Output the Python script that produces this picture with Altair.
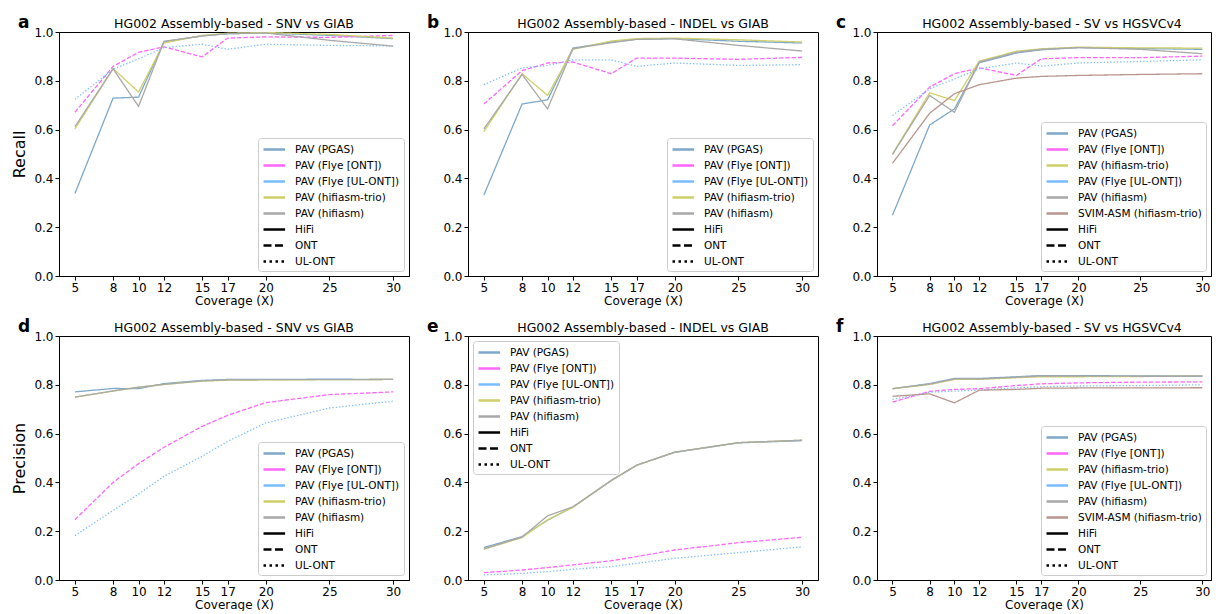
import altair as alt
import pandas as pd

COV = [5, 8, 10, 12, 15, 17, 20, 25, 30]

PGAS = "PAV (PGAS)"
ONT = "PAV (Flye [ONT])"
UL = "PAV (Flye [UL-ONT])"
TRIO = "PAV (hifiasm-trio)"
HIFIASM = "PAV (hifiasm)"
SVIM = "SVIM-ASM (hifiasm-trio)"

TECH = {PGAS: "HiFi", ONT: "ONT", UL: "UL-ONT", TRIO: "HiFi", HIFIASM: "HiFi", SVIM: "HiFi"}
COLOR = {PGAS: "#7ea8ca", ONT: "#ff66ff", UL: "#78bcff", TRIO: "#cfd06a",
         HIFIASM: "#a8a8a8", SVIM: "#b8958e"}

# a: SNV recall
pgas_a = [0.338, 0.729, 0.733, 0.960, 0.984, 0.993, 0.996, 0.986, 0.973]
ont_a = [0.671, 0.859, 0.917, 0.939, 0.898, 0.975, 0.980, 0.978, 0.986]
ul_a = [0.724, 0.847, 0.890, 0.936, 0.950, 0.929, 0.950, 0.945, 0.943]
trio_a = [0.603, 0.850, 0.754, 0.955, 0.986, 0.995, 0.998, 0.990, 0.975]
hifiasm_a = [0.612, 0.849, 0.695, 0.962, 0.984, 0.993, 0.996, 0.966, 0.942]
# b: INDEL recall
pgas_b = [0.332, 0.705, 0.722, 0.934, 0.959, 0.970, 0.973, 0.962, 0.955]
ont_b = [0.705, 0.842, 0.873, 0.877, 0.829, 0.893, 0.893, 0.888, 0.896]
ul_b = [0.784, 0.853, 0.863, 0.886, 0.886, 0.859, 0.873, 0.863, 0.866]
trio_b = [0.592, 0.829, 0.740, 0.929, 0.963, 0.973, 0.975, 0.968, 0.959]
hifiasm_b = [0.603, 0.826, 0.685, 0.932, 0.956, 0.970, 0.972, 0.945, 0.922]
# c: SV recall
pgas_c = [0.249, 0.619, 0.685, 0.874, 0.914, 0.927, 0.936, 0.932, 0.929]
ont_c = [0.616, 0.774, 0.829, 0.853, 0.822, 0.890, 0.895, 0.895, 0.901]
trio_c = [0.500, 0.751, 0.719, 0.881, 0.921, 0.931, 0.938, 0.935, 0.934]
ul_c = [0.658, 0.767, 0.808, 0.849, 0.873, 0.860, 0.873, 0.879, 0.886]
hifiasm_c = [0.498, 0.740, 0.671, 0.877, 0.917, 0.929, 0.936, 0.929, 0.911]
svim_c = [0.462, 0.667, 0.747, 0.784, 0.811, 0.818, 0.822, 0.826, 0.829]
# d: SNV precision
pgas_d = [0.771, 0.785, 0.784, 0.805, 0.818, 0.822, 0.822, 0.823, 0.822]
ont_d = [0.247, 0.400, 0.477, 0.544, 0.630, 0.675, 0.727, 0.760, 0.771]
ul_d = [0.182, 0.285, 0.352, 0.425, 0.507, 0.568, 0.644, 0.705, 0.733]
trio_d = [0.749, 0.774, 0.790, 0.801, 0.815, 0.819, 0.820, 0.821, 0.822]
hifiasm_d = [0.750, 0.775, 0.790, 0.802, 0.816, 0.820, 0.821, 0.821, 0.822]
# e: INDEL precision
pgas_e = [0.133, 0.178, 0.245, 0.299, 0.407, 0.470, 0.523, 0.562, 0.571]
ont_e = [0.030, 0.041, 0.051, 0.062, 0.079, 0.096, 0.123, 0.153, 0.175]
ul_e = [0.021, 0.027, 0.034, 0.044, 0.055, 0.068, 0.089, 0.112, 0.136]
trio_e = [0.126, 0.174, 0.247, 0.298, 0.408, 0.470, 0.524, 0.563, 0.573]
hifiasm_e = [0.128, 0.176, 0.263, 0.300, 0.408, 0.471, 0.524, 0.563, 0.573]
# f: SV precision
pgas_f = [0.784, 0.805, 0.826, 0.826, 0.833, 0.838, 0.838, 0.836, 0.836]
ont_f = [0.729, 0.773, 0.781, 0.784, 0.797, 0.804, 0.808, 0.811, 0.812]
trio_f = [0.784, 0.801, 0.822, 0.822, 0.829, 0.833, 0.833, 0.834, 0.836]
ul_f = [0.740, 0.770, 0.774, 0.778, 0.788, 0.792, 0.795, 0.797, 0.800]
hifiasm_f = [0.784, 0.803, 0.824, 0.824, 0.831, 0.836, 0.836, 0.835, 0.835]
svim_f = [0.753, 0.763, 0.726, 0.778, 0.781, 0.786, 0.787, 0.787, 0.788]

TECHS = ["HiFi", "ONT", "UL-ONT"]
FONT = "DejaVu Sans"
H = 244
YVALS = [0, 0.2, 0.4, 0.6, 0.8, 1.0]


def panel(letter, title, series, ytitle, orient, width=350, xmax=31.25):
    order = list(series.keys())
    rows = []
    for m in order:
        for c, v in zip(COV, series[m]):
            rows.append({"cov": c, "val": v, "method": m, "tech": TECH[m]})
    df = pd.DataFrame(rows)
    domain = order + TECHS
    crange = [COLOR[m] for m in order] + ["black"] * 3
    if ytitle is None:
        yaxis = alt.Axis(values=YVALS, format=".1f", title=None, labelPadding=2)
    else:
        yaxis = alt.Axis(values=YVALS, format=".1f", title=ytitle,
                         titleFontSize=16, titlePadding=6, labelPadding=2)
    lines = alt.Chart(df).mark_line(strokeWidth=1.3, clip=True).encode(
        x=alt.X("cov:Q", scale=alt.Scale(domain=[3.75, xmax], nice=False, zero=False),
                axis=alt.Axis(values=COV, title="Coverage (X)", labelPadding=2, titlePadding=2)),
        y=alt.Y("val:Q", scale=alt.Scale(domain=[0, 1], nice=False), axis=yaxis),
        color=alt.Color("method:N", sort=domain,
                        scale=alt.Scale(domain=domain, range=crange),
                        legend=alt.Legend(
                            title=None, orient=orient, offset=5, padding=4,
                            fillColor="rgba(255,255,255,0.85)", strokeColor="#cccccc",
                            cornerRadius=3, labelFont=FONT, labelFontSize=10.5,
                            labelColor="black", labelLimit=300,
                            symbolType="M-1,0L2.6,0", symbolSize=144,
                            symbolStrokeWidth=2.5, labelOffset=18, rowPadding=3,
                            symbolDash={"expr": "datum.value === 'ONT' ? [8,3.5] : (datum.value === 'UL-ONT' ? [2.5,3.5] : [1,0])"},
                        )),
        strokeDash=alt.StrokeDash("tech:N",
                                  scale=alt.Scale(domain=TECHS, range=[[1, 0], [4.4, 1.9], [1.3, 2]]),
                                  legend=None),
    )
    lab = alt.Chart(pd.DataFrame({"t": [letter]})).mark_text(
        font=FONT, fontSize=17, fontWeight="bold", align="left", baseline="alphabetic", color="black"
    ).encode(text="t:N", x=alt.value(-41), y=alt.value(-4))
    ttl = alt.Chart(pd.DataFrame({"t": [title]})).mark_text(
        font=FONT, fontSize=12.5, align="center", baseline="alphabetic", color="black"
    ).encode(text="t:N", x=alt.value(175), y=alt.value(-4))
    return alt.layer(lines, lab, ttl).properties(width=width, height=H)


pa = panel("a", "HG002 Assembly-based - SNV vs GIAB",
           {PGAS: pgas_a, ONT: ont_a, UL: ul_a, TRIO: trio_a, HIFIASM: hifiasm_a}, "Recall", "bottom-right")
pb = panel("b", "HG002 Assembly-based - INDEL vs GIAB",
           {PGAS: pgas_b, ONT: ont_b, UL: ul_b, TRIO: trio_b, HIFIASM: hifiasm_b}, None, "bottom-right")
pc = panel("c", "HG002 Assembly-based - SV vs HGSVCv4",
           {PGAS: pgas_c, ONT: ont_c, TRIO: trio_c, UL: ul_c, HIFIASM: hifiasm_c, SVIM: svim_c}, None,
           "bottom-right", width=334, xmax=30.7)
pd_ = panel("d", "HG002 Assembly-based - SNV vs GIAB",
            {PGAS: pgas_d, ONT: ont_d, UL: ul_d, TRIO: trio_d, HIFIASM: hifiasm_d}, "Precision", "bottom-right")
pe = panel("e", "HG002 Assembly-based - INDEL vs GIAB",
           {PGAS: pgas_e, ONT: ont_e, UL: ul_e, TRIO: trio_e, HIFIASM: hifiasm_e}, None, "top-left")
pf = panel("f", "HG002 Assembly-based - SV vs HGSVCv4",
           {PGAS: pgas_f, ONT: ont_f, TRIO: trio_f, UL: ul_f, HIFIASM: hifiasm_f, SVIM: svim_f}, None,
           "bottom-right", width=334, xmax=30.7)

row1 = alt.hconcat(pa, pb, pc, spacing=16).resolve_scale(color="independent", strokeDash="independent")
row2 = alt.hconcat(pd_, pe, pf, spacing=16).resolve_scale(color="independent", strokeDash="independent")

chart = alt.vconcat(row1, row2, spacing=10).resolve_scale(
    color="independent", strokeDash="independent"
).properties(
    padding={"left": 3, "top": 5, "right": 0, "bottom": 0},
    background="white",
).configure_axis(
    labelFont=FONT, titleFont=FONT, labelFontSize=12, titleFontSize=12,
    labelColor="black", titleColor="black", domainColor="black", tickColor="black",
    tickSize=4, grid=False, titleFontWeight="normal"
).configure_view(stroke="black", strokeWidth=1)

chart.save("out.html", embed_options={"renderer": "svg", "actions": False})
